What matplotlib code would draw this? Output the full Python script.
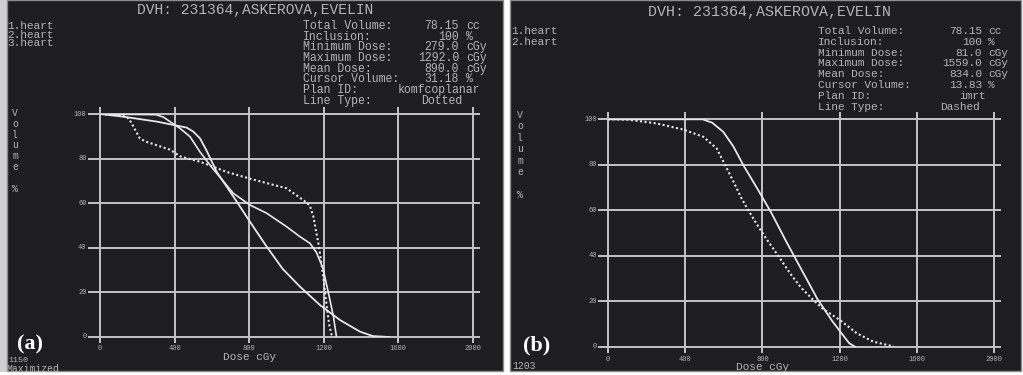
import matplotlib
matplotlib.use('Agg')
import matplotlib.pyplot as plt
from matplotlib.patches import Rectangle

# ---------------- data ----------------
x_ticks = [0, 400, 800, 1200, 1600, 2000]
y_ticks = [0, 20, 40, 60, 80, 100]
x_tick_labels = ['0', '400', '800', '1200', '1600', '2000']
y_tick_labels = ['0', '20', '40', '60', '80', '100']

title = 'DVH: 231364,ASKEROVA,EVELIN'

# panel (a)
a_structures = ['1.heart', '2.heart', '3.heart']
a_dose1 = [0, 125, 304, 411, 465, 500, 536, 572, 626, 715, 804, 894, 980, 1072, 1180, 1287, 1394, 1464, 1550]
a_vol1 = [100, 98.8, 96.6, 94.8, 93.9, 92.1, 89.1, 83.5, 74, 63, 51.7, 40.5, 30.5, 22.6, 14.3, 7.6, 2.4, 0.4, 0]
a_dose2 = [0, 300, 340, 375, 430, 483, 536, 600, 660, 715, 804, 894, 1000, 1072, 1126, 1160, 1195, 1232, 1252, 1268]
a_vol2 = [100, 99.7, 98.6, 96.6, 93.5, 89.8, 83, 76, 70, 64.4, 59.2, 55.5, 49.5, 45, 42, 38, 31, 17, 9, 0]
a_dose3 = [0, 100, 143, 165, 188, 214, 250, 304, 375, 430, 536, 680, 804, 894, 1000, 1090, 1125, 1144, 1171, 1189, 1200, 1215, 1230, 1245]
a_vol3 = [100, 99.5, 98.8, 96.5, 93, 89, 87.5, 86, 84, 81, 78.6, 74, 71, 69, 66.7, 61.4, 59, 54, 42, 32, 25, 14, 5, 0]
a_labels = ['Total Volume:', 'Inclusion:', 'Minimum Dose:', 'Maximum Dose:', 'Mean Dose:', 'Cursor Volume:', 'Plan ID:', 'Line Type:']
a_values = ['78.15', '100', '279.0', '1292.0', '890.0', '31.18']
a_units = ['cc', '%', 'cGy', 'cGy', 'cGy', '%']
a_plan = 'komfcoplanar'
a_linetype = 'Dotted'

# panel (b)
b_structures = ['1.heart', '2.heart']
b_dose1 = [0, 490, 540, 597, 650, 700, 778, 848, 925, 1005, 1085, 1160, 1210, 1250, 1280]
b_vol1 = [100, 100, 98.5, 94.5, 88, 80, 68.9, 58.6, 46, 33.5, 21, 11.5, 5.9, 1.5, 0]
b_dose2 = [0, 110, 250, 390, 494, 563, 600, 650, 690, 727, 770, 820, 882, 943, 1000, 1064, 1116, 1202, 1289, 1375, 1461, 1480]
b_vol2 = [100, 99.8, 98.2, 95.5, 92.3, 87.2, 81, 72.6, 65.5, 60, 54, 47.5, 40, 32.3, 26, 20.5, 16.5, 11.7, 5.9, 2.2, 0.5, 0]
b_labels = a_labels
b_values = ['78.15', '100', '81.0', '1559.0', '834.0', '13.83']
b_units = ['cc', '%', 'cGy', 'cGy', 'cGy', '%']
b_plan = 'imrt'
b_linetype = 'Dashed'

# ---------------- figure ----------------
W, H = 1023, 375
fig = plt.figure(figsize=(W / 100, H / 100), dpi=100)
fig.patch.set_facecolor('white')

def fx(x):
    return x / W

def fy(y):
    return 1 - y / H

BG = '#1e1e20'
TXT = '#b4b4b4'
GRID = '#c4c4c4'
CURVE = '#e8e8e8'
MONO = 'Liberation Mono'

def rect(x0, y0, x1, y1, fc, ec='none', lw=0):
    fig.add_artist(Rectangle((fx(x0), fy(y1)), fx(x1 - x0), (y1 - y0) / H,
                             transform=fig.transFigure, facecolor=fc,
                             edgecolor=ec, linewidth=lw, zorder=-5))

rect(0, 0, 7, 372, '#cfcfcf')
rect(7, 0, 503, 371, BG, '#8c8c8c', 1.0)
rect(510, 0, 1021, 371, BG, '#8c8c8c', 1.0)

def txt(x, y, s, size=8, ha='left', va='center', family=MONO, color=TXT, weight='normal'):
    fig.text(fx(x), fy(y), s, fontsize=size, ha=ha, va=va, family=family,
             color=color, fontweight=weight)

def panel(ax, xl, xr, yb, yt, label_x, tick_y, dose_y):
    ax.set_xlim(0, 2000)
    ax.set_ylim(0, 100)
    ax.axis('off')
    ax.patch.set_alpha(0)
    ax.hlines(y_ticks, xl, xr, color=GRID, lw=1.4, clip_on=False, zorder=1)
    ax.vlines(x_ticks, yb, yt, color=GRID, lw=1.4, clip_on=False, zorder=1)
    for v, s in zip(y_ticks, y_tick_labels):
        ax.text(label_x, v, s, ha='right', va='center', fontsize=5, color=TXT,
                family=MONO, clip_on=False)
    for v, s in zip(x_ticks, x_tick_labels):
        ax.text(v, tick_y, s, ha='center', va='center', fontsize=5, color=TXT,
                family=MONO, clip_on=False)
    ax.text(800, dose_y, 'Dose cGy', ha='center', va='center', fontsize=8,
            color=TXT, family=MONO, clip_on=False)

# ---- panel (a)
ax_a = fig.add_axes([fx(100), fy(337), fx(373), 223 / H])
panel(ax_a, -64, 2037, -2.7, 103, -72, -5, -9)
ax_a.plot(a_dose1, a_vol1, color=CURVE, lw=1.3, zorder=3, solid_joinstyle='round')
ax_a.plot(a_dose2, a_vol2, color=CURVE, lw=1.2, zorder=3, solid_joinstyle='round')
ax_a.plot(a_dose3, a_vol3, color=CURVE, lw=1.5, ls=(0, (1, 1.2)), zorder=3)

txt(255, 10, title, size=10.5, ha='center')
for i, s in enumerate(a_structures):
    txt(7, 26 + 8.5 * i, s, size=8)
rows_a = [26 + 10.7 * i for i in range(8)]
for i, s in enumerate(a_labels):
    txt(303, rows_a[i], s, size=8.3)
for i, (v, u) in enumerate(zip(a_values, a_units)):
    txt(459, rows_a[i], v, size=8.3, ha='right')
    txt(466, rows_a[i], u, size=8.3)
txt(439, rows_a[6], a_plan, size=8.3, ha='center')
txt(442, rows_a[7], a_linetype, size=8.3, ha='center')
for i, ch in enumerate('Volume'):
    txt(15, 113 + 10.8 * i, ch, size=7, ha='center')
txt(15, 113 + 10.8 * 7, '%', size=7, ha='center')
txt(8, 361, '1150', size=6)
txt(6, 369, 'Maximized', size=7)
txt(17, 344, '(a)', size=16, family='Liberation Serif', color='white', weight='bold')

# ---- panel (b)
ax_b = fig.add_axes([fx(608), fy(346.7), fx(386), 227.4 / H])
panel(ax_b, -52, 2035, -2.8, 103.2, -58, -5.5, -8.9)
ax_b.plot(b_dose1, b_vol1, color=CURVE, lw=1.3, zorder=3, solid_joinstyle='round')
ax_b.plot(b_dose2, b_vol2, color=CURVE, lw=1.5, ls=(0, (1, 1.2)), zorder=3)

txt(769, 12, title, size=10.8, ha='center')
for i, s in enumerate(b_structures):
    txt(511, 31 + 10.7 * i, s, size=8)
rows_b = [31 + 10.8 * i for i in range(8)]
for i, s in enumerate(b_labels):
    txt(818, rows_b[i], s, size=8)
for i, (v, u) in enumerate(zip(b_values, b_units)):
    txt(982, rows_b[i], v, size=8, ha='right')
    txt(988, rows_b[i], u, size=8)
txt(972, rows_b[6], b_plan, size=8, ha='center')
txt(960, rows_b[7], b_linetype, size=8, ha='center')
for i, ch in enumerate('Volume'):
    txt(520, 115 + 11.4 * i, ch, size=7, ha='center')
txt(520, 115 + 11.4 * 7, '%', size=7, ha='center')
txt(512, 366, '1203', size=7)
txt(523, 345, '(b)', size=16, family='Liberation Serif', color='white', weight='bold')

fig.savefig('out.png', dpi=100, facecolor='white')
